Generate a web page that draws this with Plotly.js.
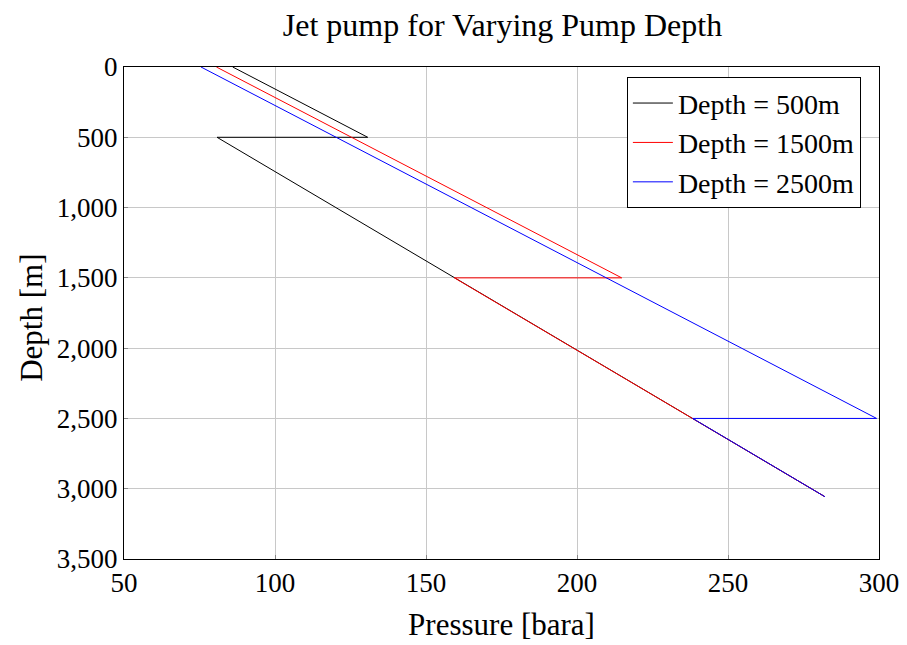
<!DOCTYPE html>
<html>
<head>
<meta charset="utf-8">
<script src="https://cdn.plot.ly/plotly-3.0.1.min.js"></script>
<style>html,body{margin:0;padding:0;background:#fff;}#chart{width:907px;height:645px;}</style>
</head>
<body>
<div id="chart"></div>
<script>
// Series data: pressure [bara] vs depth [m]
const seriesNames = ["Depth = 500m", "Depth = 1500m", "Depth = 2500m"];
const depth500 = [0, 500, 500, 3057];
const press500 = [86.0, 130.7, 80.8, 282.1];
const depth1500 = [0, 1500, 1500, 3057];
const press1500 = [80.6, 214.8, 159.4, 282.1];
const depth2500 = [0, 2500, 2500, 3057];
const press2500 = [75.5, 299.2, 238.3, 282.1];
const colors = ["#000000", "#ff0000", "#0000ff"];

const font = "Liberation Serif, DejaVu Serif, serif";

const traces = [
  {x: press500, y: depth500, name: seriesNames[0]},
  {x: press1500, y: depth1500, name: seriesNames[1]},
  {x: press2500, y: depth2500, name: seriesNames[2]}
].map((t, i) => Object.assign(t, {
  type: "scatter", mode: "lines",
  line: {color: colors[i], width: 1}
}));

const layout = {
  width: 907, height: 645,
  margin: {l: 123.5, r: 28, t: 67, b: 86},
  paper_bgcolor: "#fff", plot_bgcolor: "#fff",
  font: {family: font, size: 27, color: "#000"},
  title: {text: "Jet pump for Varying Pump Depth", font: {family: font, size: 32}, x: 0.554, xanchor: "center", y: 0.962, yanchor: "middle"},
  xaxis: {
    range: [50, 300], dtick: 50, tick0: 50,
    showgrid: true, gridcolor: "#c8c8c8", gridwidth: 1,
    showline: true, linecolor: "#000", linewidth: 1, mirror: true,
    ticks: "inside", ticklen: 4, tickcolor: "#888",
    zeroline: false,
    tickfont: {family: font, size: 27},
    title: {text: "Pressure [bara]", font: {family: font, size: 31}, standoff: 15}
  },
  yaxis: {
    range: [3500, 0], dtick: 500, tick0: 0,
    tickformat: ",d",
    showgrid: true, gridcolor: "#c8c8c8", gridwidth: 1,
    showline: true, linecolor: "#000", linewidth: 1, mirror: true,
    ticks: "inside", ticklen: 4, tickcolor: "#888",
    zeroline: false,
    tickfont: {family: font, size: 27}
  },
  annotations: [{
    text: "Depth [m]", xref: "paper", yref: "paper",
    x: -0.122, y: 0.49, xanchor: "center", yanchor: "middle",
    textangle: -90, showarrow: false, font: {family: font, size: 31}
  }],
  legend: {
    x: 0.976, y: 0.979, xanchor: "right", yanchor: "top",
    bgcolor: "#fff", bordercolor: "#000", borderwidth: 1,
    font: {family: font, size: 28},
    tracegroupgap: 0, itemwidth: 40
  },
  showlegend: true
};

Plotly.newPlot("chart", traces, layout, {displayModeBar: false, staticPlot: true});
</script>
</body>
</html>
